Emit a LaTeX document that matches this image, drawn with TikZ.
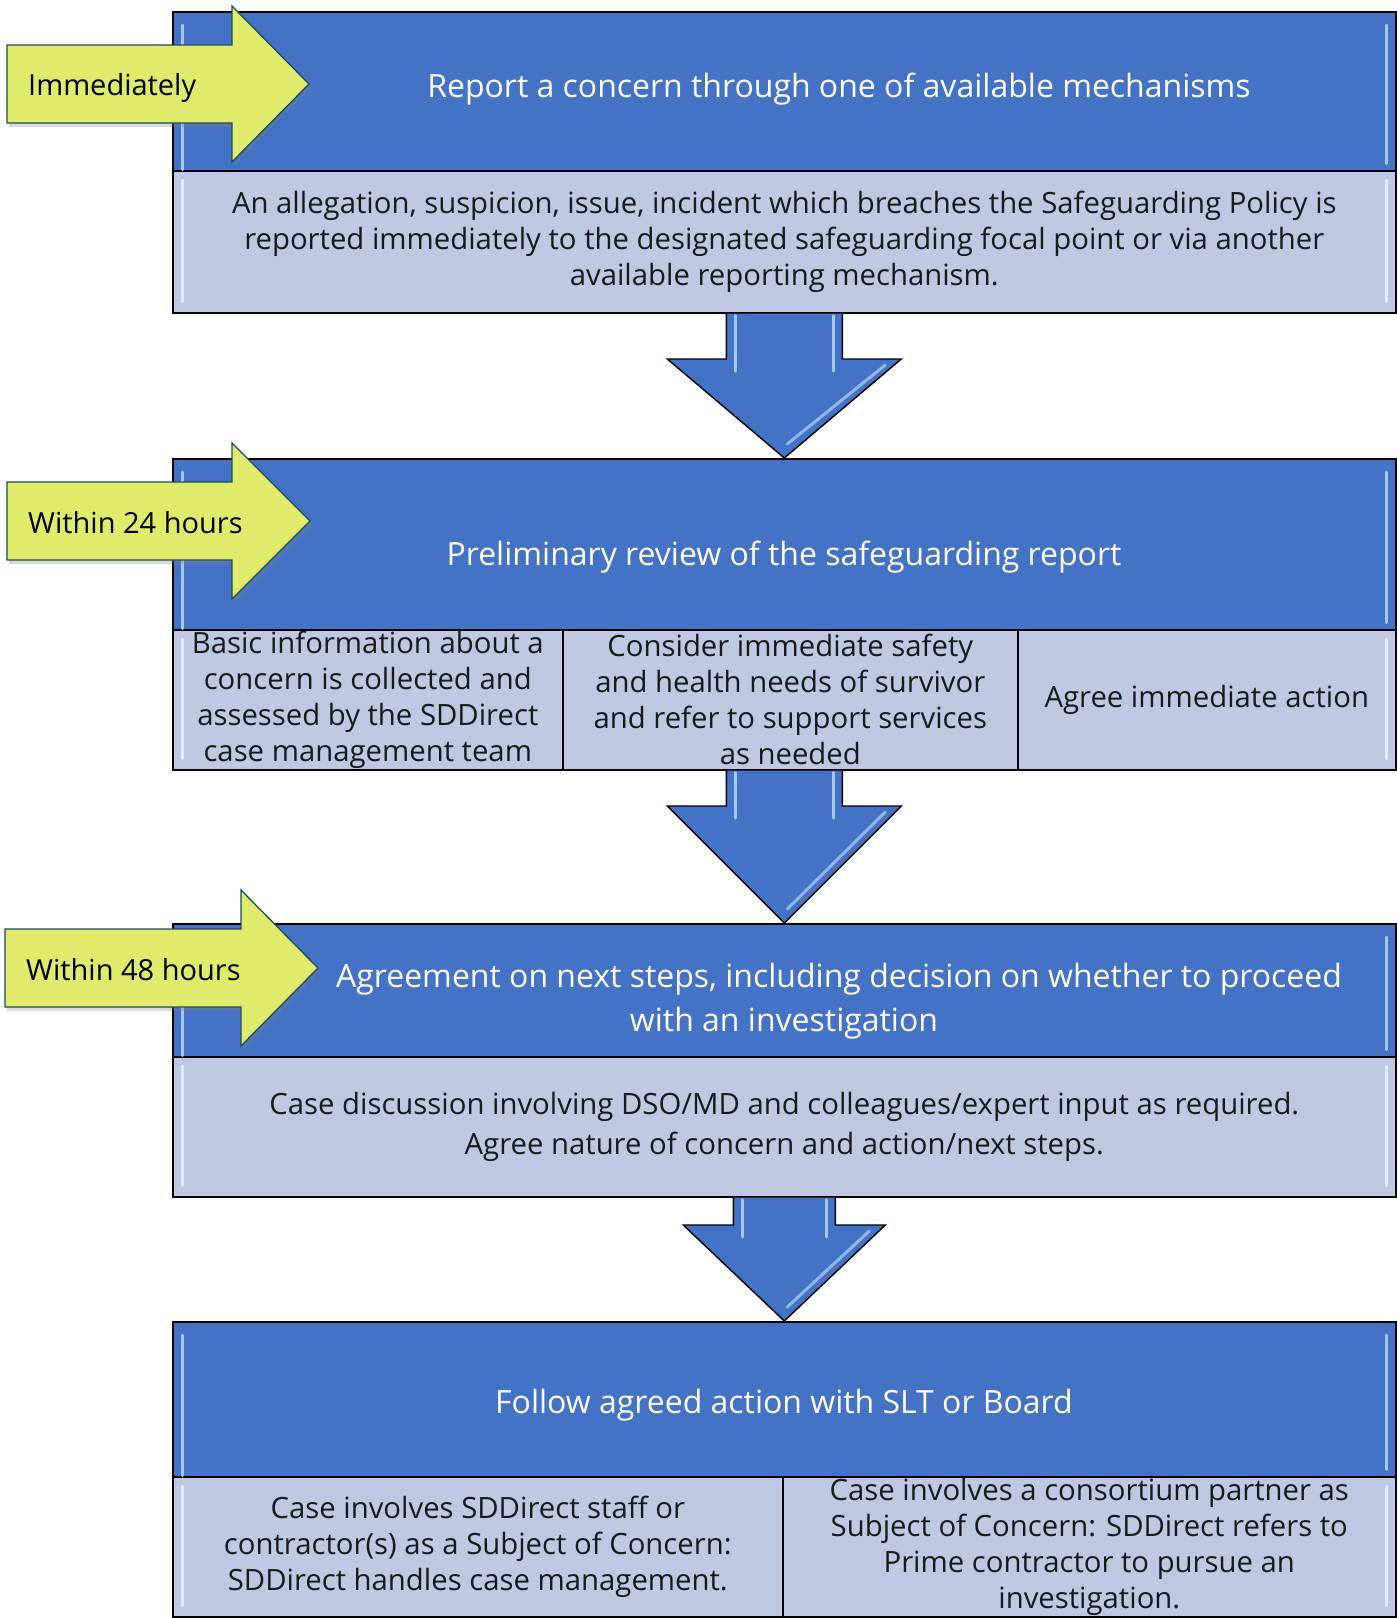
\documentclass[tikz,border=0pt]{standalone}
\usepackage{fontspec}
\setmainfont{Open Sans}
\usetikzlibrary{calc,shadows}

\definecolor{hdrblue}{RGB}{68,114,196}
\definecolor{celllav}{RGB}{190,200,226}
\definecolor{limefill}{RGB}{224,235,107}
\definecolor{tealedge}{RGB}{24,78,90}
\definecolor{glint}{RGB}{165,200,245}

\tikzset{
  header/.style={draw=black, line width=1.6pt, fill=hdrblue, anchor=north west, inner sep=0pt},
  cell/.style={draw=black, line width=1.6pt, fill=celllav, anchor=north west, inner sep=0pt,
    text=black!90, font=\fontsize{29.3}{36}\selectfont, align=center},
  hdrtext/.style={text=white, font=\fontsize{32}{44.5}\selectfont, align=center, inner sep=0pt},
  timetext/.style={text=black, font=\fontsize{29}{36}\selectfont, anchor=west, inner sep=0pt},
  timearrow/.style={draw=tealedge, line width=1.3pt, fill=limefill, line join=miter,
    drop shadow={opacity=0.3, shadow xshift=2pt, shadow yshift=-4pt}},
  downarrow/.style={draw=black, line width=1.4pt, fill=hdrblue, line join=miter},
  gloss/.style={draw=glint, line width=3pt, line cap=round},
}

% yellow timing arrow: left x, neck x, tip x, tip y
\newcommand{\timearrow}[4]{%
  \draw[timearrow] (#1,#4-39) -- (#2,#4-39) -- (#2,#4-78) -- (#3,#4) -- (#2,#4+78) -- (#2,#4+39) -- (#1,#4+39) -- cycle;}

% blue block arrow: start point, target node, half shaft, half head, head length
\newcommand{\stepdown}[5]{%
  \draw[downarrow] ($(#1)+(-#3,0)$) -- ($(#2.north)+(-#3,-#5)$) -- ($(#2.north)+(-#4,-#5)$)
    -- (#2.north) -- ($(#2.north)+(#4,-#5)$) -- ($(#2.north)+(#3,-#5)$) -- ($(#1)+(#3,0)$);
  \draw[gloss] ($(#1)+(-#3+9,2)$) -- ($(#2.north)+(-#3+9,-#5+12)$);
  \draw[gloss] ($(#1)+(#3-9,2)$) -- ($(#2.north)+(#3-9,-#5+12)$);
  \draw[gloss, opacity=0.8] ($(#2.north)+(#4-16,-#5+6)$) -- ($(#2.north)+(3,-14)$);}

\begin{document}
\begin{tikzpicture}[x=1pt,y=-1pt]
\useasboundingbox (0,0) rectangle (1397,1618);

% step 1
\node[header, minimum width=1223, minimum height=159] (h1) at (172,11) {};
\node[cell, minimum width=1223, minimum height=142] (b1) at (172,170)
  {An allegation, suspicion, issue, incident which breaches the Safeguarding Policy is\\
   reported immediately to the designated safeguarding focal point or via another\\
   available reporting mechanism.};

% step 2
\node[header, minimum width=1223, minimum height=171] (h2) at (172,458) {};
\node[cell, minimum width=390, minimum height=140] (b2a) at (172,629)
  {Basic information about a\\ concern is collected and\\ assessed by the SDDirect\\ case management team};
\node[cell, minimum width=455, minimum height=140] (b2b) at (562,629)
  {Consider immediate safety\\ and health needs of survivor\\ and refer to support services\\ as needed};
\node[cell, minimum width=378, minimum height=140] (b2c) at (1017,629) {Agree immediate action};

% step 3
\node[header, minimum width=1223, minimum height=133] (h3) at (172,923) {};
\node[cell, minimum width=1223, minimum height=140, font=\fontsize{29.3}{40}\selectfont] (b3) at (172,1056)
  {Case discussion involving DSO/MD and colleagues/expert input as required.\\
   Agree nature of concern and action/next steps.};

% step 4
\node[header, minimum width=1223, minimum height=155] (h4) at (172,1321) {};
\node[cell, minimum width=610, minimum height=140] (b4a) at (172,1476)
  {Case involves SDDirect staff or\\ contractor(s) as a Subject of Concern:\\ SDDirect handles case management.};
\node[cell, minimum width=613, minimum height=140] (b4b) at (782,1476)
  {Case involves a consortium partner as\\ Subject of Concern: SDDirect refers to\\ Prime contractor to pursue an\\ investigation.};

% highlights
\foreach \n in {h1,h2,h3,h4} {
  \draw[gloss] ($(\n.north west)+(10,14)$) -- ($(\n.south west)+(10,-2)$);
  \draw[gloss] ($(\n.north east)+(-10,14)$) -- ($(\n.south east)+(-10,-8)$);
}
\foreach \n in {b1,b2a,b3,b4a} {
  \draw[gloss, draw=white, opacity=0.6] ($(\n.north west)+(10,10)$) -- ($(\n.south west)+(10,-12)$);
}
\foreach \n in {b1,b2c,b3,b4b} {
  \draw[gloss, draw=white, opacity=0.6] ($(\n.north east)+(-10,10)$) -- ($(\n.south east)+(-10,-12)$);
}

% header texts
\node[hdrtext] (t1) at (839,89) {Report a concern through one of available mechanisms};
\node[hdrtext] (t2) at (784,557) {Preliminary review of the safeguarding report};
\node[hdrtext] (t3) at (839,979) {Agreement on next steps, including decision on whether to proceed};
\node[hdrtext] (t3b) at (784,1023) {with an investigation};
\node[hdrtext] (t4) at (784,1405) {Follow agreed action with SLT or Board};

% arrows between steps
\coordinate (s1) at (b1.south);
\coordinate (s2) at (h3.north |- b2b.south);
\coordinate (s3) at (b3.south);
\stepdown{s1}{h2}{58}{117}{99}
\stepdown{s2}{h3}{58}{117}{117}
\stepdown{s3}{h4}{51}{101}{96}

% timing arrows
\timearrow{7}{232}{309}{84}
\node[timetext] (w1) at (28,88) {Immediately};
\timearrow{7}{232}{310}{521}
\node[timetext] (w2) at (28,523) {Within 24 hours};
\timearrow{5}{241}{318}{968}
\node[timetext] (w3) at (26,970) {Within 48 hours};

\end{tikzpicture}
\end{document}
